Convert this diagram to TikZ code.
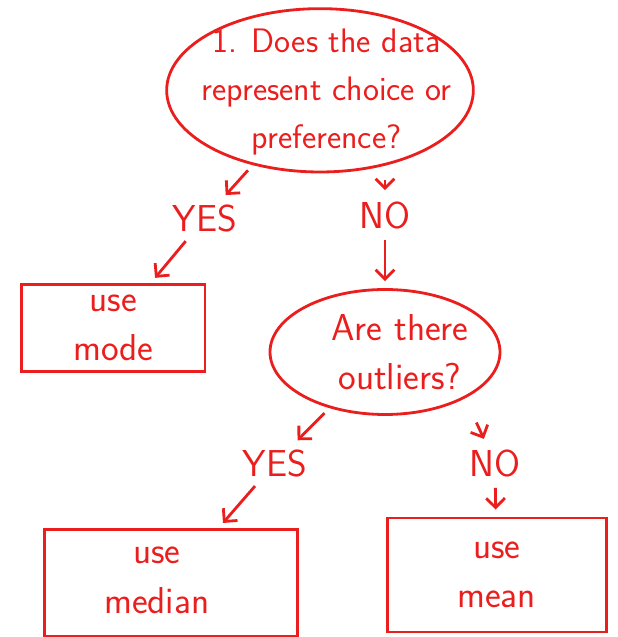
\documentclass[tikz,border=0pt]{standalone}
\usetikzlibrary{shapes.geometric,arrows.meta}
\definecolor{pen}{RGB}{235,30,30}
\begin{document}
\begin{tikzpicture}[
    ink/.style={draw=pen,line width=2.4pt},
    hand/.style={text=pen,font=\sffamily\fontsize{32}{42}\selectfont,align=center},
    arr/.style={ink,-{Straight Barb[length=8pt,width=16pt]},shorten <=6pt,shorten >=6pt}
  ]
  \useasboundingbox (0,0) rectangle (18.54,19.11);
  % first question
  \node[ink,ellipse,minimum width=9.2cm,minimum height=4.9cm] (q1) at (9.6,16.4) {};
  \node[hand,font=\sffamily\fontsize{29}{41}\selectfont] (q1text) at (9.8,16.35) {1. Does the data\\represent choice or\\preference?};
  \node[hand] (yes1) at (6.15,12.57) {YES};
  \node[hand] (no1) at (11.55,12.66) {NO};
  % use mode
  \node[ink,minimum width=5.5cm,minimum height=2.6cm] (mode) at (3.4,9.27) {};
  \node[hand] (modetext) at (mode) {use\\mode};
  % second question
  \node[ink,ellipse,minimum width=6.9cm,minimum height=3.75cm] (q2) at (11.55,8.55) {};
  \node[hand] (q2text) at (12,8.55) {Are there\\outliers?};
  \node[hand] (yes2) at (8.25,5.22) {YES};
  \node[hand] (no2) at (14.85,5.22) {NO};
  % results
  \node[ink,minimum width=7.6cm,minimum height=3.2cm] (median) at (5.13,1.62) {};
  \node[hand] (mediantext) at (4.7,1.7) {use\\median};
  \node[ink,minimum width=6.57cm,minimum height=3.42cm] (mean) at (14.9,1.86) {};
  \node[hand] (meantext) at (mean) {use\\mean};
  % arrows
  \draw[arr] (q1) -- (yes1);
  \draw[arr] (q1.south -| no1) -- (no1);
  \draw[arr] (yes1) -- (mode);
  \draw[arr] (no1) -- (q2);
  \draw[arr] (q2) -- (yes2);
  \draw[arr,shorten <=0.8cm] (q2.-30) -- (no2);
  \draw[arr] (yes2) -- (median);
  \draw[arr] (no2) -- (mean);
\end{tikzpicture}
\end{document}
